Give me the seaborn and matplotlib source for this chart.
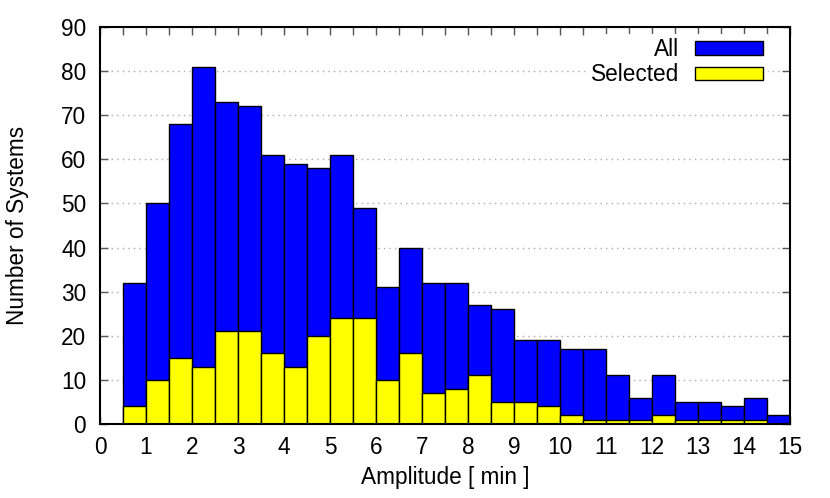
import numpy as np
import pandas as pd
import matplotlib
matplotlib.use("Agg")
import matplotlib.pyplot as plt
from matplotlib.ticker import MultipleLocator
import seaborn as sns

bin_edges = [0.5 + 0.5 * i for i in range(30)]
all_counts = [32, 50, 68, 81, 73, 72, 61, 59, 58, 61, 49, 31, 40, 32, 32,
              27, 26, 19, 19, 17, 17, 11, 6, 11, 5, 5, 4, 6, 2]
selected_counts = [4, 10, 15, 13, 21, 21, 16, 13, 20, 24, 24, 10, 16, 7, 8,
                   11, 5, 5, 4, 2, 1, 1, 1, 2, 1, 1, 1, 1, 0]
centers = [(a + b) / 2 for a, b in zip(bin_edges[:-1], bin_edges[1:])]

df = pd.DataFrame({"center": centers, "all": all_counts, "sel": selected_counts})

sns.set_style("white")
plt.rcParams['font.family'] = ['Liberation Sans', 'DejaVu Sans']
plt.rcParams['text.color'] = 'black'
plt.rcParams['axes.labelcolor'] = 'black'
plt.rcParams['xtick.labelcolor'] = 'black'
plt.rcParams['ytick.labelcolor'] = 'black'

FS = 16.3

fig = plt.figure(figsize=(8.3, 4.98), dpi=100)
ax = fig.add_axes([0.1205, 0.1486, 0.8313, 0.7972])

sns.histplot(data=df, x="center", weights="all", bins=bin_edges, ax=ax,
             color="#0000ff", edgecolor="black", linewidth=1.0, alpha=1,
             label="All", zorder=2)
sns.histplot(data=df, x="center", weights="sel", bins=bin_edges, ax=ax,
             color="#ffff00", edgecolor="black", linewidth=1.0, alpha=1,
             label="Selected", zorder=3)

ax.set_xlim(0, 15)
ax.set_ylim(0, 90)
ax.xaxis.set_major_locator(MultipleLocator(1))
ax.xaxis.set_minor_locator(MultipleLocator(0.5))
ax.yaxis.set_major_locator(MultipleLocator(10))
ax.tick_params(axis='both', which='major', direction='in', length=6, width=1,
               labelsize=FS, labelcolor='black', top=True, right=True, bottom=True,
               left=True, color='#555555')
ax.tick_params(axis='x', which='minor', direction='in', length=6, width=1,
               top=True, bottom=False, color='#555555')
ax.tick_params(axis='x', which='major', pad=9)
ax.tick_params(axis='y', which='major', pad=10)
ax.grid(axis='y', linestyle=(0, (1, 3)), color='#aaaaaa', linewidth=1, zorder=0)
ax.set_axisbelow(True)
for s in ax.spines.values():
    s.set_linewidth(1.5)
    s.set_color('black')
    s.set_zorder(5)

ax.set_xlabel("Amplitude [ min ]", fontsize=FS, color='black')
ax.set_ylabel("Number of Systems", fontsize=FS, color='black')
ax.xaxis.set_label_coords(0.5, -0.136)
ax.xaxis.label.set_verticalalignment('center')
ax.yaxis.set_label_coords(-0.12, 0.5)
ax.yaxis.label.set_verticalalignment('center')

leg = ax.legend(loc='upper right', bbox_to_anchor=(0.984, 1.012), markerfirst=False,
                frameon=True, facecolor='white', edgecolor='none', framealpha=1,
                fontsize=FS, handlelength=3.0, handleheight=0.55, labelspacing=0.1,
                borderpad=0.2, handletextpad=0.7, fancybox=False)
leg.set_zorder(6)
for t in leg.get_texts():
    t.set_color('black')

fig.savefig("out.png", dpi=100)
